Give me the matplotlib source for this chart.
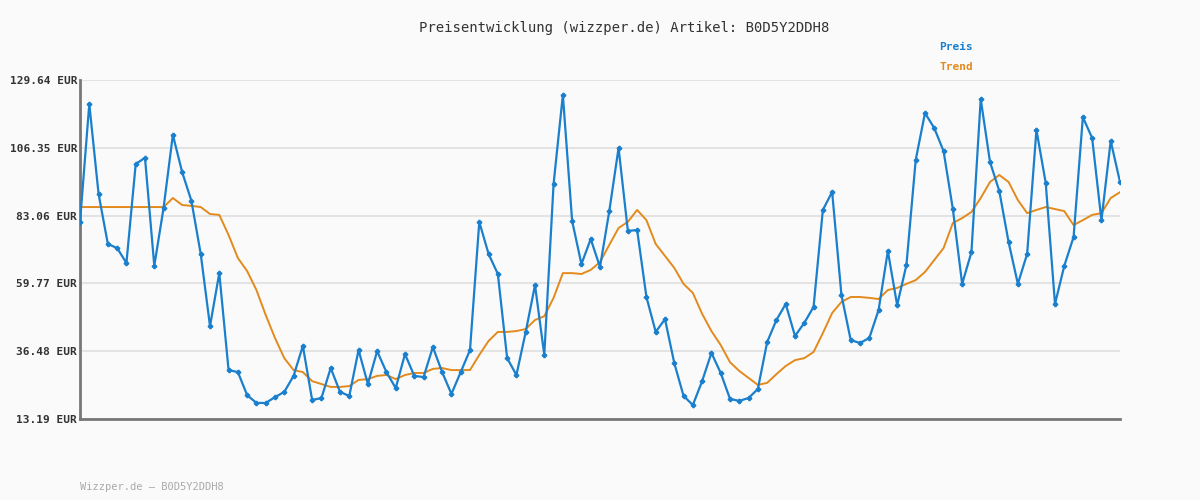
import matplotlib
matplotlib.use("Agg")
import matplotlib.pyplot as plt

preis = [80.86,121.4,90.5,73.3,71.9,66.8,100.8,102.9,65.8,85.7,110.8,98.0,88.1,69.9,45.1,63.3,30.0,29.3,21.4,18.7,
18.7,20.7,22.5,28.0,38.3,19.7,20.4,30.7,22.5,21.1,36.9,25.2,36.5,29.3,23.8,35.5,28.0,27.6,37.9,29.3,
21.8,29.3,36.9,80.9,69.9,63.0,34.1,28.3,43.1,59.2,35.2,93.9,124.5,81.2,66.4,75.0,65.4,84.6,106.3,77.8,
78.1,55.1,43.1,47.5,32.4,21.1,18.0,26.2,35.9,29.0,20.1,19.4,20.4,23.5,39.6,47.2,52.7,41.7,46.2,51.7,
85.0,91.2,55.8,40.3,39.3,41.0,50.6,70.9,52.3,66.1,102.2,118.3,113.1,105.2,85.3,59.6,70.5,123.1,101.5,91.5,
74.0,59.6,69.9,112.5,94.3,52.7,65.8,75.7,116.9,109.7,81.5,108.7,94.6]
trend = [86.0]*10 + [89.1,86.7,86.4,86.0,83.6,83.3,76.4,68.5,64.0,57.5,
48.9,41.0,34.1,30.0,29.3,26.2,25.2,24.2,24.2,24.5,26.6,26.9,28.0,28.3,26.9,28.3,29.0,29.0,30.4,30.7,
30.0,30.0,30.0,35.2,40.0,43.1,43.1,43.4,44.1,47.2,48.5,54.8,63.3,63.3,63.0,64.4,67.1,73.0,78.8,80.9,
85.0,81.5,73.3,69.2,65.1,59.6,56.5,49.3,43.4,38.6,32.7,29.7,27.3,24.9,25.6,28.6,31.4,33.4,34.1,36.2,
42.7,49.6,53.4,55.1,55.1,54.8,54.4,57.5,58.2,59.6,60.9,63.7,67.8,71.9,80.5,82.2,84.3,89.1,94.6,97.0,
94.6,88.4,83.9,85.0,86.0,85.3,84.6,79.8,81.5,83.3,83.9,89.1,91.1]
yticks = [13.19, 36.48, 59.77, 83.06, 106.35, 129.64]
ytick_labels = [f"{v:.2f} EUR" for v in yticks]

blue = "#1a7fcc"
orange = "#e38a1c"
bg = "#fafafa"

fig = plt.figure(figsize=(12, 5), dpi=100, facecolor=bg)
ax = fig.add_axes([80/1200, 81/500, 1040/1200, 339/500], facecolor=bg)
x = list(range(len(preis)))
ax.plot(x, trend, color=orange, lw=1.4, zorder=2)
ax.plot(x, preis, color=blue, lw=1.6, marker="P", ms=3, zorder=3)
ax.set_xlim(0, len(preis) - 1)
ax.set_ylim(13.19, 129.64)
ax.set_yticks(yticks)
ax.set_yticklabels(ytick_labels, family="DejaVu Sans Mono", fontsize=8, color="#333333", fontweight="bold")
ax.set_xticks([])
ax.tick_params(axis="y", length=0, pad=2)
ax.grid(axis="y", color="#e3e3e3", lw=1.5)
ax.set_axisbelow(True)
for s in ["top", "right"]:
    ax.spines[s].set_visible(False)
for s in ["left", "bottom"]:
    ax.spines[s].set_color("#777777")
    ax.spines[s].set_linewidth(2)
fig.text(624/1200, 1 - 28/500, "Preisentwicklung (wizzper.de) Artikel: B0D5Y2DDH8", ha="center", va="center",
         family="DejaVu Sans Mono", fontsize=10, color="#333333")
fig.text(939/1200, 1 - 47/500, "Preis", ha="left", va="center", family="DejaVu Sans Mono",
         fontsize=8, color=blue, fontweight="bold")
fig.text(939/1200, 1 - 67/500, "Trend", ha="left", va="center", family="DejaVu Sans Mono",
         fontsize=8, color=orange, fontweight="bold")
fig.text(80/1200, 1 - 487/500, "Wizzper.de – B0D5Y2DDH8", ha="left", va="center", family="DejaVu Sans Mono",
         fontsize=7.5, color="#aaaaaa")
fig.savefig("out.png", dpi=100, facecolor=bg)
